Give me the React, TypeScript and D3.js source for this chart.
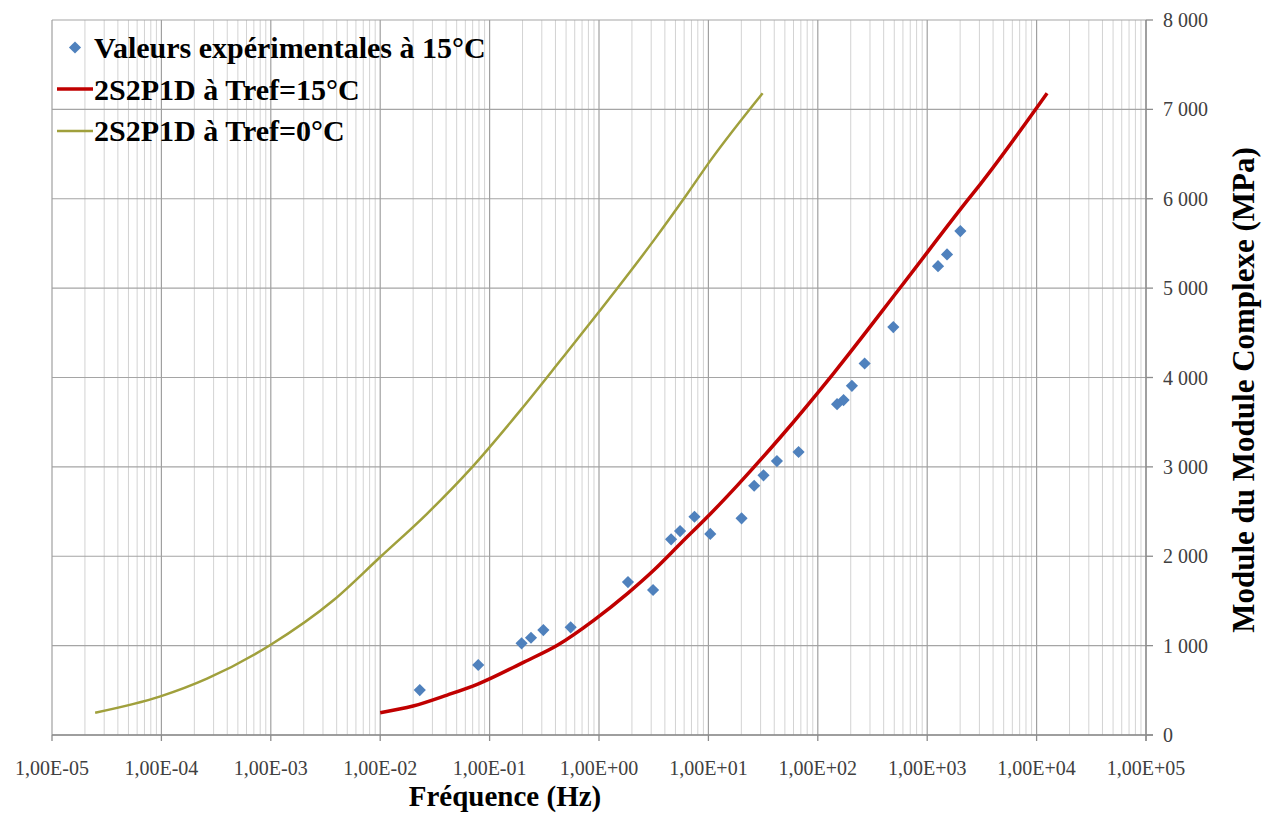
import React from "react";
import * as d3 from "d3";

// ---- Data ----
const expFreq = [0.023, 0.0787, 0.196, 0.239, 0.31, 0.551, 1.84, 3.12, 4.56, 5.51, 7.46, 10.4, 20.1, 26.2, 31.9, 42.3, 66.7, 150, 172, 205, 268, 490, 1256, 1518, 2010];
const expModulus = [503, 783, 1026, 1088, 1174, 1205, 1711, 1622, 2189, 2282, 2442, 2250, 2424, 2789, 2905, 3065, 3166, 3702, 3747, 3907, 4157, 4564, 5246, 5377, 5638];

const model15Freq = [0.01, 0.02, 0.041, 0.078, 0.206, 0.42, 0.9, 1.84, 3.18, 5.62, 10.5, 18.5, 45.9, 140, 575, 2340, 3090, 12470];
const model15Modulus = [250, 324, 447, 570, 816, 1007, 1286, 1588, 1846, 2148, 2478, 2796, 3337, 4050, 5015, 5984, 6170, 7181];

const model0Freq = [2.48e-5, 9.8e-5, 2.61e-4, 9.9e-4, 3.76e-3, 0.01007, 0.0269, 0.067, 0.192, 0.447, 1.0, 3.18, 6.44, 10.5, 31.3];
const model0Modulus = [249, 432, 630, 1007, 1510, 1994, 2478, 2978, 3635, 4195, 4735, 5537, 6059, 6432, 7181];

const xTickValues = [1e-5, 1e-4, 1e-3, 1e-2, 1e-1, 1e0, 1e1, 1e2, 1e3, 1e4, 1e5];
const xTickLabels = ["1,00E-05", "1,00E-04", "1,00E-03", "1,00E-02", "1,00E-01", "1,00E+00", "1,00E+01", "1,00E+02", "1,00E+03", "1,00E+04", "1,00E+05"];
const yTickValues = [0, 1000, 2000, 3000, 4000, 5000, 6000, 7000, 8000];
const yTickLabels = ["0", "1 000", "2 000", "3 000", "4 000", "5 000", "6 000", "7 000", "8 000"];

const legendLabels = ["Valeurs expérimentales à 15°C", "2S2P1D à Tref=15°C", "2S2P1D à Tref=0°C"];

const W = 1263;
const H = 813;
const SERIF = "Liberation Serif, DejaVu Serif, serif";

export default function App() {
  const x = d3.scaleLog().domain([1e-5, 1e5]).range([52, 1146]);
  const y = d3.scaleLinear().domain([0, 8000]).range([735, 20]);

  const minor: number[] = [];
  for (let e = -5; e < 5; e++) {
    for (let k = 2; k <= 9; k++) minor.push(k * Math.pow(10, e));
  }

  const line = d3
    .line<[number, number]>()
    .x((d) => x(d[0]))
    .y((d) => y(d[1]))
    .curve(d3.curveMonotoneX);

  const red = line(model15Freq.map((f, i) => [f, model15Modulus[i]] as [number, number])) || "";
  const olive = line(model0Freq.map((f, i) => [f, model0Modulus[i]] as [number, number])) || "";
  const diamond = d3.symbol(d3.symbolSquare, 74)() || "";

  const [x0, x1] = x.range();
  const [yb, yt] = y.range();

  const xTickStyle = { fontFamily: SERIF, fontSize: "20px" };
  const yTickStyle = { fontFamily: SERIF, fontSize: "20px" };
  const titleStyle = { fontFamily: SERIF, fontSize: "31px", fontWeight: 700 as const };
  const legendStyle = { fontFamily: SERIF, fontSize: "30px", fontWeight: 700 as const };

  return (
    <svg width={W} height={H} style={{ position: "absolute", left: 0, top: 0, background: "#fff" }}>
      {/* minor vertical grid */}
      {minor.map((v, i) => (
        <line key={"mn" + i} x1={x(v)} x2={x(v)} y1={yt} y2={yb} stroke="#d3d3d3" strokeWidth={1} />
      ))}
      {/* horizontal grid */}
      {yTickValues.map((v, i) => (
        <line key={"hg" + i} x1={x0} x2={x1} y1={y(v)} y2={y(v)} stroke="#a5a5a5" strokeWidth={1.2} />
      ))}
      {/* major vertical grid */}
      {xTickValues.map((v, i) => (
        <line key={"mj" + i} x1={x(v)} x2={x(v)} y1={yt} y2={yb} stroke="#a0a0a0" strokeWidth={1.2} />
      ))}
      {/* x axis line & ticks */}
      <line x1={x0} x2={x1 + 7} y1={yb} y2={yb} stroke="#8c8c8c" strokeWidth={1.3} />
      {xTickValues.map((v, i) => (
        <line key={"xt" + i} x1={x(v)} x2={x(v)} y1={yb} y2={yb + 6} stroke="#8c8c8c" strokeWidth={1.3} />
      ))}
      {/* right axis line & ticks */}
      <line x1={x1} x2={x1} y1={yt} y2={yb + 6} stroke="#8c8c8c" strokeWidth={1.3} />
      {yTickValues.map((v, i) => (
        <line key={"yt" + i} x1={x1} x2={x1 + 7} y1={y(v)} y2={y(v)} stroke="#8c8c8c" strokeWidth={1.3} />
      ))}

      {/* x tick labels */}
      {xTickValues.map((v, i) => (
        <text key={"xl" + i} x={x(v)} y={775} textAnchor="middle" style={xTickStyle} fill="#404040">
          {xTickLabels[i]}
        </text>
      ))}
      {/* y tick labels */}
      {yTickValues.map((v, i) => (
        <text key={"yl" + i} x={1163} y={y(v) + 7} textAnchor="start" style={yTickStyle} fill="#404040">
          {yTickLabels[i]}
        </text>
      ))}

      {/* series */}
      <path d={olive} fill="none" stroke="#a0a03c" strokeWidth={2.5} />
      <path d={red} fill="none" stroke="#c00000" strokeWidth={3.5} />
      {expFreq.map((f, i) => (
        <path key={"pt" + i} d={diamond} transform={`translate(${x(f)},${y(expModulus[i])}) rotate(45)`} fill="#4f81bd" />
      ))}

      {/* axis titles */}
      <text x={505} y={806} textAnchor="middle" style={{ ...titleStyle, fontSize: "29px" }} fill="#000">
        Fréquence (Hz)
      </text>
      <text transform={`translate(1254,390) rotate(-90)`} textAnchor="middle" style={titleStyle} fill="#000">
        Module du Module Complexe (MPa)
      </text>

      {/* legend */}
      <path d={diamond} transform="translate(75,47.5) rotate(45)" fill="#4f81bd" />
      <line x1={57} x2={93} y1={89} y2={89} stroke="#c00000" strokeWidth={3.5} />
      <line x1={57} x2={93} y1={131} y2={131} stroke="#a0a03c" strokeWidth={2.5} />
      {legendLabels.map((t, i) => (
        <text key={"lg" + i} x={94} y={58 + i * 41.7} style={legendStyle} fill="#000">
          {t}
        </text>
      ))}
    </svg>
  );
}
